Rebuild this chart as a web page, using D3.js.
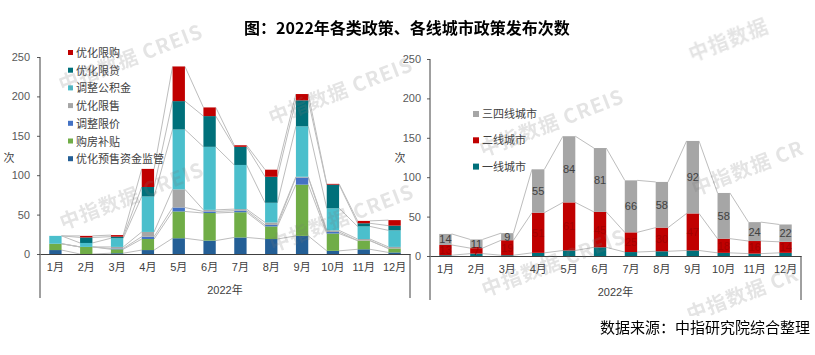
<!DOCTYPE html>
<html><head><meta charset="utf-8">
<script src="https://cdn.jsdelivr.net/npm/d3@7"></script>
<style>body{margin:0;background:#fff}</style></head>
<body><svg id="c" width="815" height="355"></svg>
<script>
// ---------- data ----------
const months = ["1月","2月","3月","4月","5月","6月","7月","8月","9月","10月","11月","12月"];
const yTicks = [0,50,100,150,200,250];
// left chart: policy types (stack order bottom -> top)
const policyNames = ["优化预售资金监管","购房补贴","调整限价","优化限售","调整公积金","优化限贷","优化限购"];
const presaleSupervision = [5,0,1,5,20,17,21,19,23,4,6,2];
const housingSubsidy     = [8,9,5,14,34,35,32,16,65,22,11,5];
const priceLimit         = [0,0,1,3,5,2,2,2,9,2,0,0];
const salesRestriction   = [0,0,2,6,23,2,2,3,1,2,2,2];
const providentFund      = [10,5,11,45,76,80,56,25,64,28,16,21];
const loanRestriction    = [0,7,2,12,36,39,23,33,33,30,4,6];
const purchaseRestriction= [0,2,2,23,44,11,2,9,8,1,3,7];
const policyColors = ["#245f96","#70ad47","#4472c4","#a6a6a6","#4bbfcc","#00707a","#c00000"];
// right chart: city tiers (stack order bottom -> top)
const cityNames = ["一线城市","二线城市","三四线城市"];
const tier1  = [1,3,1,4,7,11,5,6,7,4,3,4];
const tier2  = [13,7,19,51,61,45,25,30,47,18,16,14];
const tier34 = [14,11,9,55,84,81,66,58,92,58,24,22];
const cityColors = ["#00707a","#c00000","#a6a6a6"];

const FONT = '"Liberation Sans","Noto Sans CJK SC",sans-serif';
const CJK = '"Noto Sans CJK SC",sans-serif';
const svg = d3.select("#c");
svg.append("rect").attr("width",815).attr("height",355).attr("fill","#fff");

function stackChart(o){
  const x = d3.scaleBand().domain(months).range([o.x0,o.x1]).padding(0);
  const y = d3.scaleLinear().domain([0,250]).range([o.y0,o.yTop]);
  const keys = o.series.map((s,k)=>"s"+k);
  const data = months.map((m,i)=>{const r={m}; o.series.forEach((s,k)=>r["s"+k]=s[i]); return r;});
  const stacked = d3.stack().keys(keys)(data);
  const bw = x.bandwidth()*0.4, off = (x.bandwidth()-bw)/2;
  const g = svg.append("g");
  // series lines
  stacked.forEach(layer=>{
    for(let i=0;i<months.length-1;i++){
      g.append("line")
        .attr("x1",x(months[i])+off+bw).attr("y1",y(layer[i][1]))
        .attr("x2",x(months[i+1])+off).attr("y2",y(layer[i+1][1]))
        .attr("stroke","#bdbdbd").attr("stroke-width",1);
    }
  });
  // bars
  stacked.forEach((layer,k)=>{
    g.selectAll(null).data(layer).enter().append("rect")
      .attr("x",d=>x(d.data.m)+off).attr("width",bw)
      .attr("y",d=>y(d[1])).attr("height",d=>Math.max(0,y(d[0])-y(d[1])))
      .attr("fill",o.colors[k]);
  });
  // y axis
  const ya = svg.append("g").attr("transform",`translate(${o.x0},0)`)
    .call(d3.axisLeft(y).tickValues(yTicks).tickSize(3).tickSizeOuter(0).tickPadding(o.yPad));
  ya.select(".domain").remove();
  ya.selectAll("line").attr("stroke","#595959");
  ya.selectAll("text").attr("font-family",FONT).attr("font-size",11).attr("fill","#595959");
  // x axis
  const xa = svg.append("g").attr("transform",`translate(0,${o.y0})`)
    .call(d3.axisBottom(x).tickSize(0).tickPadding(9));
  xa.select(".domain").attr("stroke","#404040");
  xa.selectAll("text").attr("font-family",FONT).attr("font-size",11).attr("fill","#404040");
  // y axis line + multi-level category separators
  svg.append("line").attr("x1",o.x0).attr("x2",o.x0).attr("y1",o.yTop).attr("y2",o.y0+44).attr("stroke","#404040");
  svg.append("line").attr("x1",o.x1).attr("x2",o.x1).attr("y1",o.y0).attr("y2",o.y0+44).attr("stroke","#404040");
  svg.append("text").attr("x",(o.x0+o.x1)/2).attr("y",o.y0+40).attr("text-anchor","middle")
    .attr("font-family",FONT).attr("font-size",11).attr("fill","#404040").text("2022年");
  svg.append("text").attr("x",o.unitX).attr("y",162).attr("text-anchor","middle")
    .attr("font-family",CJK).attr("font-size",11).attr("fill","#404040").text("次");
  return {x,y,stacked,off,bw};
}

const wm = [[62,92,"中指数据 CREIS"],[63,230,"中指数据 CREIS"],[272,125,"中指数据 CREIS"],[273,252,"中指数据 CREIS"],
            [483,157,"中指数据 CREIS"],[692,62,"中指数据"],[695,196,"中指数据 CR"],[485,297,"中指数据 CREIS"],[690,322,"中指数据 CR"]];

// left chart
stackChart({x0:40,x1:410,y0:254,yTop:57,yPad:7,unitX:9,
  series:[presaleSupervision,housingSubsidy,priceLimit,salesRestriction,providentFund,loanRestriction,purchaseRestriction],
  colors:policyColors});
// right chart
const R = stackChart({x0:430,x1:801,y0:256,yTop:59,yPad:6,unitX:400,
  series:[tier1,tier2,tier34], colors:cityColors});

// data labels on right chart
const labG = svg.append("g");
[[2,"#404040"],[1,"#a30000"]].forEach(([k,col])=>{
  labG.selectAll(null).data(R.stacked[k]).enter().append("text")
    .attr("x",d=>R.x(d.data.m)+R.off+R.bw/2)
    .attr("y",d=>(R.y(d[0])+R.y(d[1]))/2+4)
    .attr("text-anchor","middle").attr("font-family",FONT).attr("font-size",11)
    .attr("fill",col).text(d=>d[1]-d[0]);
});

// legends
const legL = svg.append("g");
policyNames.slice().reverse().forEach((n,i)=>{
  const cy = 53 + i*17.7;
  legL.append("rect").attr("x",68).attr("y",cy-3).attr("width",5).attr("height",5).attr("fill",policyColors[policyNames.length-1-i]);
  legL.append("text").attr("x",76).attr("y",cy+4).attr("font-family",CJK).attr("font-size",11).attr("fill","#404040").text(n);
});
const legR = svg.append("g");
cityNames.slice().reverse().forEach((n,i)=>{
  const cy = 114 + i*26.3;
  legR.append("rect").attr("x",473).attr("y",cy-3).attr("width",6).attr("height",6).attr("fill",cityColors[cityNames.length-1-i]);
  legR.append("text").attr("x",482).attr("y",cy+4).attr("font-family",CJK).attr("font-size",11).attr("fill","#404040").text(n);
});

const wg = svg.append("g").attr("opacity",0.2);
wm.forEach(([wx,wy,t])=>{
  wg.append("text").attr("transform",`translate(${wx},${wy}) rotate(-21)`)
    .attr("font-family",CJK).attr("font-weight","bold").attr("font-size",20).attr("fill","#7a7a7a")
    .attr("letter-spacing",1).text(t);
});

// title & source
svg.append("text").attr("x",407).attr("y",34).attr("text-anchor","middle")
  .attr("font-family",CJK).attr("font-weight","bold").attr("font-size",16).attr("fill","#000")
  .text("图：2022年各类政策、各线城市政策发布次数");
svg.append("rect").attr("x",598).attr("y",316).attr("width",214).attr("height",20).attr("fill","#fff");
svg.append("text").attr("x",810).attr("y",333).attr("text-anchor","end")
  .attr("font-family",CJK).attr("font-size",15).attr("fill","#000")
  .text("数据来源：中指研究院综合整理");
</script>
</body></html>
